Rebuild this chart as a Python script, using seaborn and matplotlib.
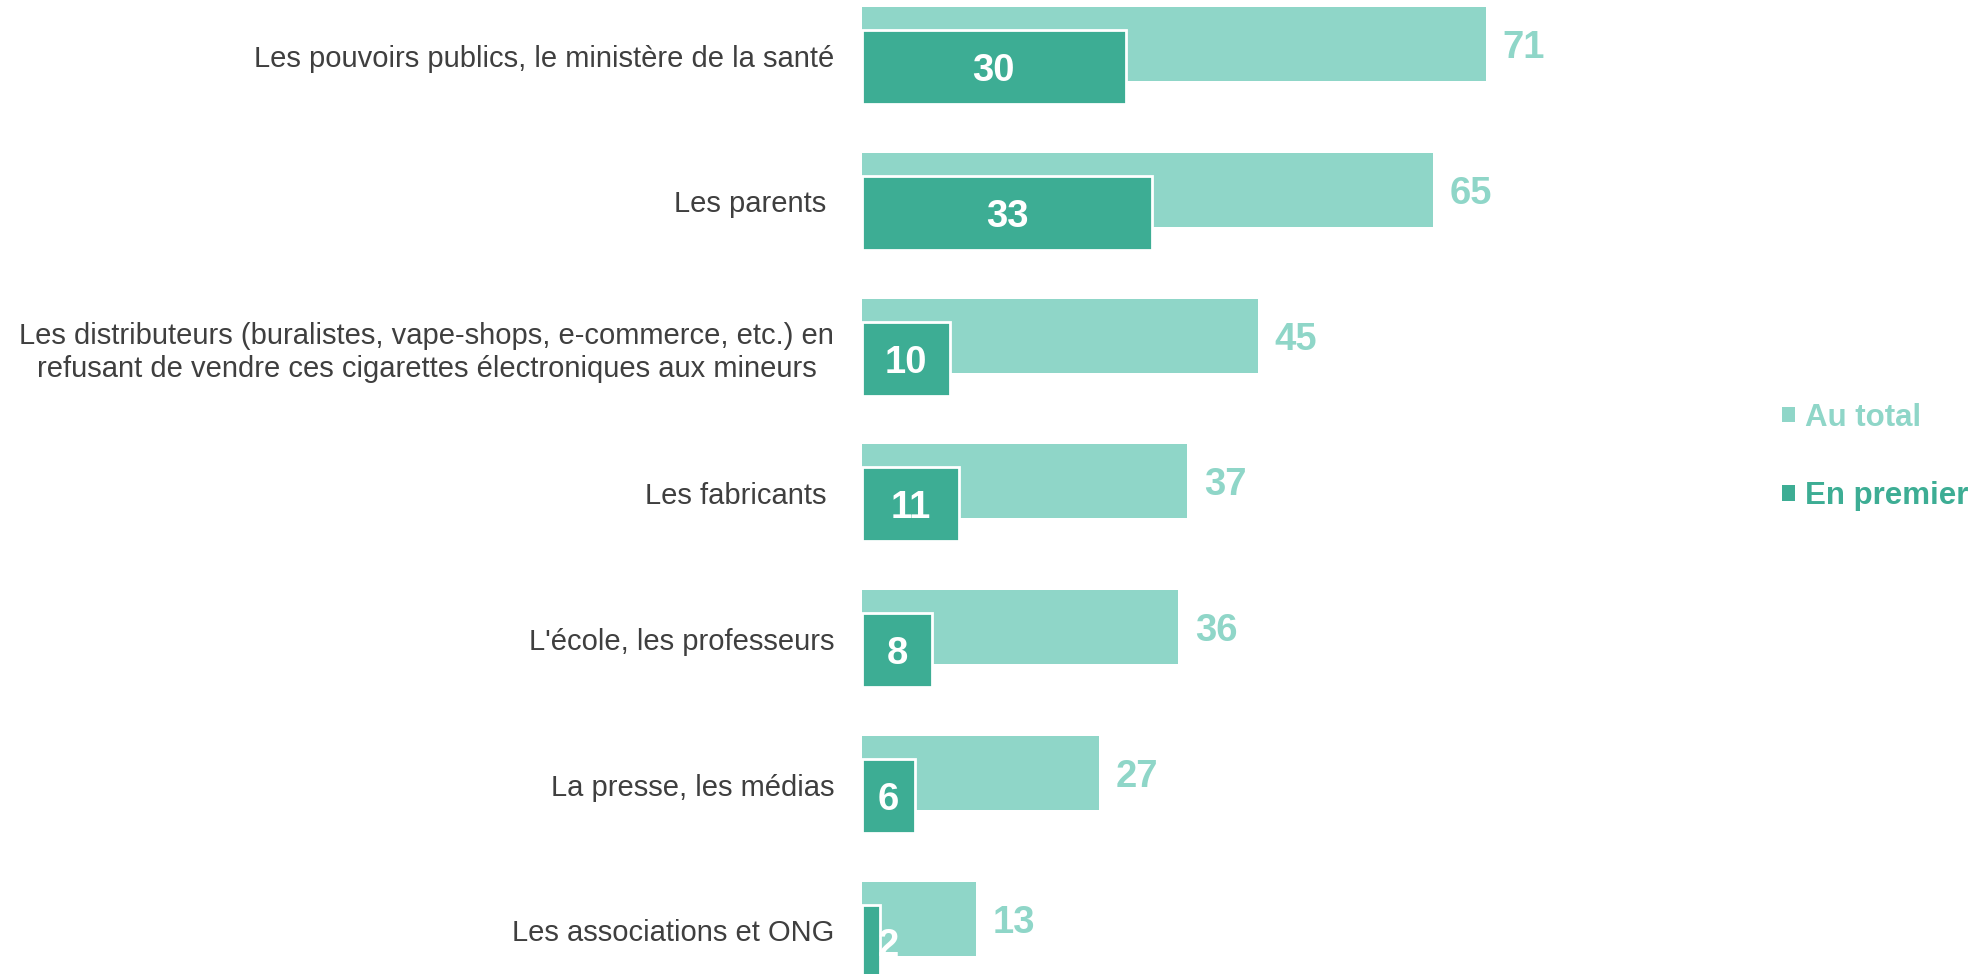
import numpy as np
import pandas as pd
import matplotlib
matplotlib.use("Agg")
import matplotlib.pyplot as plt
from matplotlib.patches import Patch
import seaborn as sns

categories = [
    "Les pouvoirs publics, le ministère de la santé",
    "Les parents ",
    "Les distributeurs (buralistes, vape-shops, e-commerce, etc.) en\nrefusant de vendre ces cigarettes électroniques aux mineurs",
    "Les fabricants ",
    "L'école, les professeurs",
    "La presse, les médias",
    "Les associations et ONG",
]
au_total = [71, 65, 45, 37, 36, 27, 13]
en_premier = [30, 33, 10, 11, 8, 6, 2]
series_names = ["Au total", "En premier"]

LIGHT = "#8fd6c8"
DARK = "#3dad94"
TEXT = "#3f3f3f"

sns.set_theme(style="white")
plt.rcParams["font.family"] = ["Liberation Sans", "DejaVu Sans"]

df = pd.DataFrame({"cat": categories, "total": au_total, "premier": en_premier})

W, H = 1980, 974
fig = plt.figure(figsize=(W / 100, H / 100), dpi=100)
x0 = 862 / W
px_per_unit = 8.79
ax_w = 1 - x0
ax = fig.add_axes([x0, 0, ax_w, 1])

bar_h = 0.507
shift = 0.158

# total bars first, then the "first choice" bars overlapping them, offset downwards
sns.barplot(data=df, y="cat", x="total", orient="h", color=LIGHT,
            width=bar_h, saturation=1, ax=ax, linewidth=0)
n_light = len(ax.patches)
sns.barplot(data=df, y="cat", x="premier", orient="h", color=DARK,
            width=bar_h, saturation=1, ax=ax, edgecolor="white", linewidth=2)
for p in ax.patches[n_light:]:
    p.set_y(p.get_y() + shift)

ax.set_xlim(0, ax_w * W / px_per_unit)
row_px = 145.8
top_px = 44
ax.set_ylim((H - top_px) / row_px, -top_px / row_px)

ax.set_yticks(np.arange(len(categories)) + shift / 2)
ax.set_yticklabels(categories, fontsize=21, color=TEXT, ha="right",
                   multialignment="center", linespacing=1.22)
ax.tick_params(axis="y", length=0, pad=20)
ax.set_xticks([])
ax.set_xlabel("")
ax.set_ylabel("")
for s in ax.spines.values():
    s.set_visible(False)

for i, (t, p) in enumerate(zip(au_total, en_premier)):
    ax.text(t + 1.9, i, f"{t}", color=LIGHT, fontsize=27.5, fontweight="bold",
            va="center_baseline", ha="left")
    ax.text(max(p / 2, 3), i + shift, f"{p}", color="white", fontsize=27.5,
            fontweight="bold", va="center_baseline", ha="center")

handles = [Patch(facecolor=LIGHT, edgecolor="none"),
           Patch(facecolor=DARK, edgecolor="none")]
fig.legend(handles=handles, labels=series_names, loc="center left",
           bbox_to_anchor=(1782 / W, 1 - 457 / H), frameon=False,
           prop={"size": 22.5, "weight": "bold"}, labelcolor=[LIGHT, DARK],
           handlelength=0.4, handleheight=0.4, handletextpad=0.35,
           labelspacing=1.55, borderaxespad=0, borderpad=0)

fig.savefig("out.png", dpi=100)
